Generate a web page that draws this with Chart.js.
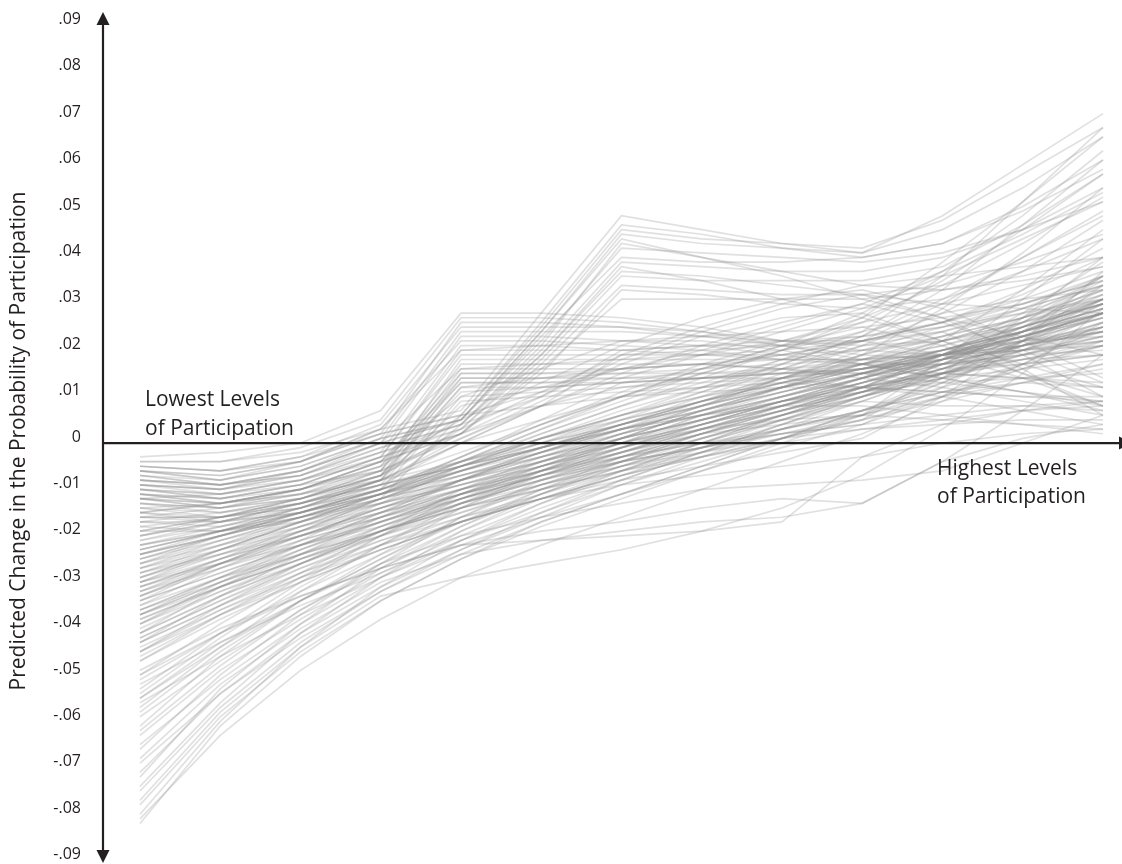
<!DOCTYPE html>
<html>
<head>
<meta charset="utf-8">
<script src="https://cdn.jsdelivr.net/npm/chart.js@4.4.0/dist/chart.umd.min.js"></script>
<style>
  html, body { margin: 0; padding: 0; background: #fff; }
  #wrap { width: 1122px; height: 864px; }
</style>
</head>
<body>
<div id="wrap"><canvas id="chart" width="1122" height="864"></canvas></div>
<script>
// participation levels, lowest to highest
const levels = [0, 1, 2, 3, 4, 5, 6, 7, 8, 9, 10, 11, 12];

// y axis tick values
const yTicks = [.09, .08, .07, .06, .05, .04, .03, .02, .01, 0, -.01, -.02, -.03, -.04, -.05, -.06, -.07, -.08, -.09];

// simulated runs, grouped by where they start / finish
const steepStart = [
  [-.082, -.061, -.046, -.034, -.025, -.017, -.011, -.005, .001, .007, .014, .022, .031],
  [-.081, -.063, -.049, -.038, -.029, -.022, -.016, -.010, -.004, .002, .009, .017, .026],
  [-.080, -.060, -.044, -.031, -.021, -.013, -.006, .000, .006, .012, .019, .028, .039],
  [-.078, -.059, -.045, -.034, -.025, -.018, -.012, -.006, .000, .006, .013, .021, .030],
  [-.077, -.058, -.044, -.033, -.029, -.026, -.023, -.019, -.014, -.007, .003, .015, .029],
  [-.075, -.057, -.043, -.032, -.023, -.015, -.008, -.002, .004, .010, .017, .025, .034],
  [-.074, -.056, -.041, -.029, -.019, -.011, -.004, .002, .007, .012, .018, .026, .036],
  [-.072, -.053, -.039, -.027, -.018, -.010, -.003, .003, .008, .013, .018, .023, .028],
  [-.071, -.054, -.041, -.031, -.023, -.016, -.009, -.003, .003, .009, .015, .022, .030],
  [-.069, -.054, -.042, -.032, -.024, -.017, -.011, -.005, .001, .007, .013, .020, .028],
  [-.068, -.052, -.040, -.030, -.024, -.021, -.019, -.017, -.016, -.013, -.004, .007, .019],
  [-.066, -.050, -.037, -.026, -.016, -.008, -.002, .004, .009, .014, .019, .025, .031],
  [-.065, -.051, -.039, -.029, -.021, -.014, -.008, -.002, .004, .010, .016, .023, .031],
  [-.063, -.049, -.038, -.028, -.020, -.013, -.007, -.001, .005, .011, .017, .024, .031],
  [-.062, -.048, -.036, -.026, -.018, -.011, -.005, .001, .006, .011, .016, .021, .026],
  [-.061, -.046, -.034, -.024, -.014, -.006, .001, .007, .012, .016, .020, .024, .028],
  [-.059, -.047, -.036, -.027, -.019, -.012, -.006, .000, .006, .012, .019, .027, .036],
  [-.058, -.045, -.034, -.025, -.017, -.010, -.004, .002, .007, .012, .018, .025, .033],
  [-.057, -.044, -.032, -.022, -.013, -.006, .000, .006, .011, .015, .019, .023, .027],
  [-.056, -.046, -.037, -.029, -.022, -.016, -.011, -.006, -.001, .004, .010, .017, .025],
  [-.055, -.044, -.034, -.025, -.016, -.009, -.003, .002, .008, .014, .022, .033, .046],
  [-.054, -.042, -.031, -.022, -.014, -.007, -.001, .005, .010, .015, .020, .025, .030],
  [-.053, -.041, -.030, -.020, -.011, -.004, .002, .008, .014, .019, .024, .029, .034],
  [-.052, -.043, -.035, -.028, -.021, -.015, -.009, -.004, .001, .006, .011, .016, .021],
  [-.051, -.041, -.032, -.024, -.017, -.011, -.005, .000, .005, .010, .015, .020, .025],
  [-.050, -.039, -.029, -.020, -.012, -.005, .001, .007, .012, .017, .022, .027, .032],
  [-.049, -.040, -.033, -.027, -.022, -.021, -.020, -.019, -.017, -.003, .004, .007, .009],
  [-.047, -.037, -.028, -.019, -.010, -.003, .003, .009, .015, .021, .028, .037, .048]
];

const coreBand = [
  [-.046, -.037, -.029, -.022, -.016, -.011, -.006, -.001, .004, .009, .015, .021, .028],
  [-.045, -.035, -.026, -.018, -.011, -.005, .000, .005, .010, .015, .020, .025, .030],
  [-.045, -.037, -.030, -.023, -.017, -.012, -.007, -.003, .001, .005, .009, .013, .017],
  [-.044, -.036, -.029, -.023, -.017, -.012, -.007, -.002, .003, .007, .011, .014, .017],
  [-.043, -.033, -.024, -.016, -.008, -.002, .004, .009, .014, .018, .022, .027, .033],
  [-.043, -.035, -.027, -.020, -.013, -.007, -.001, .004, .009, .014, .019, .024, .029],
  [-.042, -.034, -.027, -.021, -.015, -.009, -.004, .001, .006, .011, .017, .024, .032],
  [-.041, -.031, -.023, -.016, -.010, -.005, .000, .004, .008, .012, .015, .018, .021],
  [-.041, -.033, -.026, -.019, -.013, -.008, -.003, .002, .006, .010, .014, .018, .022],
  [-.040, -.032, -.025, -.018, -.012, -.007, -.002, .003, .008, .013, .019, .026, .035],
  [-.039, -.030, -.022, -.015, -.008, -.002, .003, .007, .011, .015, .019, .022, .025],
  [-.039, -.032, -.026, -.020, -.014, -.009, -.004, .001, .006, .011, .016, .022, .028],
  [-.038, -.031, -.025, -.019, -.013, -.008, -.003, .002, .007, .012, .016, .020, .024],
  [-.037, -.029, -.021, -.013, -.005, .001, .006, .010, .013, .016, .019, .022, .024],
  [-.037, -.030, -.024, -.018, -.012, -.007, -.002, .003, .007, .011, .015, .019, .023],
  [-.037, -.031, -.025, -.020, -.015, -.010, -.005, .000, .005, .010, .015, .020, .026],
  [-.036, -.029, -.023, -.017, -.011, -.006, -.001, .004, .009, .014, .019, .024, .029],
  [-.035, -.027, -.020, -.014, -.008, -.003, .002, .006, .010, .014, .018, .023, .028],
  [-.035, -.029, -.024, -.019, -.014, -.010, -.006, -.002, .002, .006, .010, .013, .016],
  [-.034, -.026, -.019, -.012, -.006, -.001, .004, .008, .012, .016, .020, .025, .031],
  [-.034, -.028, -.022, -.017, -.012, -.007, -.002, .003, .008, .013, .018, .024, .031],
  [-.033, -.027, -.021, -.016, -.011, -.006, -.001, .004, .009, .013, .017, .021, .025],
  [-.033, -.026, -.020, -.014, -.009, -.004, .001, .005, .009, .012, .015, .018, .021],
  [-.032, -.025, -.018, -.012, -.006, -.001, .004, .009, .013, .017, .021, .026, .032],
  [-.031, -.025, -.020, -.015, -.010, -.005, .000, .004, .008, .011, .014, .016, .018],
  [-.031, -.025, -.019, -.013, -.007, -.002, .003, .008, .013, .018, .023, .029, .036],
  [-.030, -.023, -.017, -.011, -.005, .000, .005, .009, .013, .016, .019, .023, .028],
  [-.030, -.025, -.020, -.015, -.010, -.006, -.002, .002, .006, .010, .014, .019, .024],
  [-.029, -.024, -.019, -.014, -.009, -.004, .001, .005, .009, .013, .017, .021, .026],
  [-.029, -.023, -.018, -.013, -.008, -.003, .002, .006, .010, .014, .018, .022, .027],
  [-.028, -.022, -.016, -.010, -.004, .001, .006, .010, .014, .017, .020, .022, .023],
  [-.027, -.022, -.017, -.012, -.007, -.002, .003, .007, .011, .015, .019, .024, .030],
  [-.027, -.021, -.016, -.011, -.006, -.001, .004, .009, .014, .019, .023, .027, .031],
  [-.026, -.020, -.015, -.010, -.005, .000, .004, .008, .012, .015, .018, .021, .024],
  [-.025, -.021, -.017, -.013, -.009, -.005, -.001, .003, .007, .011, .016, .022, .029],
  [-.025, -.020, -.015, -.011, -.007, -.003, .001, .005, .009, .012, .015, .017, .019],
  [-.024, -.019, -.014, -.009, -.004, .001, .005, .009, .012, .015, .017, .019, .020],
  [-.024, -.020, -.016, -.012, -.008, -.004, .000, .004, .008, .012, .016, .020, .025],
  [-.023, -.019, -.015, -.011, -.007, -.003, .001, .005, .009, .013, .017, .021, .025],
  [-.022, -.018, -.014, -.010, -.006, -.002, .002, .006, .010, .014, .018, .023, .028],
  [-.022, -.019, -.016, -.013, -.009, -.005, -.001, .003, .007, .011, .015, .019, .023],
  [-.021, -.017, -.013, -.009, -.005, -.001, .003, .006, .009, .011, .013, .014, .015],
  [-.020, -.016, -.012, -.008, -.004, .000, .004, .008, .012, .016, .020, .024, .028],
  [-.019, -.016, -.013, -.009, -.005, -.001, .003, .007, .011, .015, .019, .023, .027]
];

const upperStart = [
  [-.003, -.002, .000, .007, .028, .028, .027, .025, .022, .020, .019, .021, .024],
  [-.004, -.004, -.001, .005, .027, .027, .026, .024, .021, .018, .016, .017, .019],
  [-.005, -.006, -.003, .004, .025, .025, .025, .023, .021, .019, .018, .020, .023],
  [-.006, -.007, -.004, .002, .026, .026, .025, .024, .022, .021, .022, .026, .031],
  [-.006, -.008, -.004, .003, .022, .022, .021, .020, .018, .017, .017, .019, .022],
  [-.007, -.009, -.006, .001, .024, .024, .024, .023, .022, .022, .024, .028, .034],
  [-.009, -.010, -.007, .000, .023, .023, .022, .021, .019, .017, .015, .014, .013],
  [-.008, -.009, -.007, -.002, .021, .021, .020, .019, .018, .018, .020, .024, .029],
  [-.010, -.011, -.008, -.003, .020, .020, .020, .021, .022, .023, .026, .030, .036],
  [-.005, -.006, -.004, .003, .020, .021, .022, .023, .024, .025, .027, .030, .035],
  [-.011, -.012, -.009, -.003, .019, .019, .019, .019, .019, .020, .022, .025, .030],
  [-.012, -.013, -.011, -.006, .018, .018, .018, .018, .018, .018, .019, .020, .022],
  [-.013, -.014, -.011, -.005, .017, .017, .017, .017, .016, .015, .013, .011, .008],
  [-.008, -.009, -.006, .000, .016, .017, .018, .019, .020, .022, .025, .029, .034],
  [-.014, -.016, -.012, -.006, .016, .016, .016, .017, .018, .020, .023, .027, .033],
  [-.011, -.013, -.010, -.004, .015, .015, .015, .015, .015, .016, .018, .022, .027],
  [-.014, -.015, -.013, -.007, .015, .015, .016, .017, .019, .022, .026, .032, .040],
  [-.012, -.014, -.010, -.005, .014, .014, .014, .015, .016, .017, .019, .021, .024],
  [-.016, -.016, -.014, -.008, .014, .014, .015, .016, .017, .018, .019, .020, .021],
  [-.013, -.015, -.012, -.006, .013, .013, .014, .014, .015, .016, .017, .018, .019],
  [-.010, -.012, -.010, -.004, .013, .013, .013, .014, .016, .018, .021, .025, .030],
  [-.015, -.017, -.014, -.008, .012, .012, .013, .014, .015, .017, .020, .024, .029],
  [-.012, -.014, -.012, -.007, .011, .012, .013, .014, .015, .015, .015, .014, .012],
  [-.015, -.016, -.014, -.009, .010, .011, .012, .013, .014, .016, .019, .023, .028],
  [-.017, -.017, -.015, -.010, .009, .010, .011, .012, .014, .016, .018, .020, .022],
  [-.019, -.019, -.017, -.012, .006, .008, .010, .011, .012, .012, .011, .010, .009],
  [-.016, -.017, -.015, -.010, .004, .010, .020, .021, .021, .022, .026, .033, .042],
  [-.017, -.018, -.015, -.009, .000, .008, .019, .020, .021, .023, .025, .028, .031],
  [-.018, -.019, -.016, -.011, -.003, .005, .013, .016, .019, .022, .026, .031, .037]
];

const earlyPeak = [
  [-.004, -.004, -.002, .003, .007, .028, .049, .046, .043, .041, .049, .060, .071],
  [-.005, -.006, -.003, .002, .006, .026, .047, .045, .042, .040, .043, .051, .061],
  [-.006, -.007, -.004, .002, .006, .025, .046, .044, .043, .042, .048, .058, .068],
  [-.007, -.008, -.005, .001, .005, .024, .045, .043, .042, .041, .046, .055, .066],
  [-.009, -.010, -.007, -.001, .004, .021, .043, .040, .037, .034, .033, .035, .038],
  [-.008, -.010, -.006, .000, .005, .022, .042, .041, .040, .039, .041, .046, .052],
  [-.007, -.009, -.006, .000, .005, .023, .040, .039, .039, .040, .043, .050, .059],
  [-.009, -.011, -.008, -.002, .004, .020, .039, .038, .037, .037, .040, .046, .055],
  [-.008, -.009, -.007, -.001, .004, .019, .037, .036, .034, .032, .030, .029, .028],
  [-.010, -.012, -.009, -.003, .003, .018, .036, .035, .035, .035, .038, .047, .058],
  [-.011, -.012, -.009, -.003, .002, .017, .034, .033, .032, .032, .034, .039, .045],
  [-.012, -.013, -.010, -.004, .002, .016, .031, .031, .031, .031, .033, .036, .040],
  [-.006, -.008, -.005, .001, .005, .024, .044, .040, .036, .031, .027, .023, .019],
  [-.010, -.011, -.008, -.002, .003, .019, .038, .035, .031, .027, .022, .017, .012],
  [-.011, -.013, -.010, -.004, .002, .015, .033, .032, .030, .029, .031, .037, .044]
];

const highFinish = [
  [-.030, -.024, -.018, -.012, -.006, .000, .006, .012, .018, .024, .036, .052, .068],
  [-.025, -.020, -.015, -.010, -.004, .002, .008, .014, .020, .027, .039, .052, .066],
  [-.036, -.029, -.022, -.015, -.008, -.001, .005, .011, .017, .023, .033, .047, .061],
  [-.020, -.017, -.013, -.008, -.002, .004, .010, .015, .020, .026, .035, .046, .058],
  [-.041, -.033, -.026, -.019, -.012, -.006, .000, .006, .012, .019, .029, .041, .055],
  [-.015, -.013, -.010, -.006, .001, .008, .014, .019, .024, .029, .036, .044, .052],
  [-.028, -.023, -.017, -.011, -.005, .001, .007, .012, .017, .023, .031, .040, .050],
  [-.037, -.030, -.023, -.017, -.011, -.006, -.002, .002, .004, .006, .018, .031, .044],
  [-.042, -.034, -.026, -.019, -.013, -.008, -.004, -.001, .002, .005, .015, .027, .040],
  [-.031, -.026, -.021, -.016, -.011, -.007, -.003, .000, .003, .006, .014, .024, .036],
  [-.026, -.022, -.018, -.014, -.010, -.006, -.003, .000, .002, .004, .012, .022, .034],
  [-.047, -.038, -.030, -.023, -.017, -.012, -.008, -.005, -.002, .001, .010, .022, .037],
  [-.021, -.018, -.014, -.010, -.003, .004, .011, .017, .022, .026, .030, .034, .038],
  [-.024, -.020, -.016, -.011, -.004, .003, .009, .015, .020, .024, .028, .031, .033],
  [-.017, -.015, -.012, -.007, .003, .011, .019, .025, .030, .034, .036, .038, .040],
  [-.034, -.028, -.022, -.016, -.010, -.004, .002, .008, .014, .020, .025, .030, .035],
  [-.039, -.031, -.024, -.017, -.011, -.005, .001, .007, .012, .017, .022, .026, .030],
  [-.013, -.014, -.012, -.007, .012, .014, .016, .019, .022, .027, .034, .043, .053],
  [-.016, -.016, -.013, -.008, .008, .012, .016, .020, .025, .030, .037, .045, .054],
  [-.023, -.019, -.015, -.010, -.003, .004, .010, .016, .021, .028, .037, .049, .063],
  [-.032, -.026, -.020, -.014, -.008, -.002, .004, .010, .016, .022, .030, .040, .049]
];

const lowFinish = [
  [-.019, -.016, -.012, -.007, .002, .010, .018, .024, .029, .032, .027, .019, .010],
  [-.023, -.019, -.014, -.008, .000, .008, .015, .021, .026, .030, .026, .020, .013],
  [-.015, -.013, -.010, -.005, .005, .013, .021, .027, .031, .033, .029, .022, .014],
  [-.033, -.026, -.019, -.012, -.005, .002, .008, .013, .018, .022, .019, .014, .008],
  [-.029, -.023, -.017, -.011, -.005, .001, .006, .011, .016, .021, .024, .016, .006],
  [-.022, -.019, -.015, -.011, -.006, -.001, .004, .009, .013, .017, .014, .011, .009],
  [-.032, -.027, -.022, -.017, -.012, -.007, -.003, .001, .005, .009, .008, .008, .007],
  [-.028, -.024, -.020, -.016, -.012, -.008, -.004, -.001, .003, .007, .011, .013, .012],
  [-.018, -.016, -.013, -.009, -.005, -.001, .003, .006, .008, .008, .006, .004, .002],
  [-.024, -.020, -.016, -.012, -.008, -.004, .000, .003, .005, .006, .005, .004, .003],
  [-.012, -.011, -.009, -.006, .002, .008, .012, .014, .014, .012, .010, .007, .004],
  [-.030, -.026, -.022, -.018, -.013, -.009, -.005, -.002, .001, .003, .004, .005, .005],
  [-.016, -.014, -.011, -.007, .006, .011, .016, .017, .016, .014, .012, .009, .006],
  [-.038, -.031, -.025, -.019, -.014, -.010, -.006, -.003, .000, .003, .005, .007, .008],
  [-.009, -.010, -.008, -.004, .010, .016, .022, .022, .020, .017, .014, .011, .007],
  [-.027, -.023, -.019, -.015, -.011, -.007, -.004, -.001, .002, .004, .006, .008, .009],
  [-.045, -.036, -.028, -.021, -.016, -.012, -.009, -.007, -.005, -.003, .000, .002, .003],
  [-.014, -.013, -.011, -.008, .000, .005, .010, .012, .013, .012, .011, .010, .010],
  [-.050, -.041, -.033, -.027, -.022, -.019, -.017, -.014, -.012, -.013, -.004, .001, .004],
  [-.055, -.043, -.034, -.026, -.020, -.016, -.013, -.010, -.009, -.008, -.006, .000, .006],
  [-.036, -.030, -.024, -.019, -.014, -.009, -.005, -.001, .003, .007, .012, .017, .021],
  [-.043, -.035, -.028, -.022, -.017, -.012, -.007, -.003, .001, .005, .010, .016, .022],
  [-.020, -.017, -.013, -.008, .001, .009, .017, .023, .027, .028, .022, .015, .008],
  [-.026, -.021, -.016, -.011, -.004, .003, .010, .016, .021, .025, .021, .015, .010]
];

const yTitle = "Predicted Change in the Probability of Participation";
const lowLabel = ["Lowest Levels", "of Participation"];
const highLabel = ["Highest Levels", "of Participation"];

const INK = "#231f20";
const LINE = "rgba(140,140,140,0.27)";
const FONT = "'Open Sans', 'Noto Sans', sans-serif";

function tickText(v) {
  if (v === 0) return "0";
  return (v < 0 ? "-" : "") + "." + String(Math.round(Math.abs(v) * 100)).padStart(2, "0");
}

// axes with arrow heads, tick labels and the text notes
const axesAndLabels = {
  id: "axesAndLabels",
  afterDatasetsDraw(chart) {
    const ctx = chart.ctx;
    const area = chart.chartArea;
    const ys = chart.scales.y;
    const y0 = ys.getPixelForValue(0);
    const ax = area.left;

    ctx.save();
    ctx.strokeStyle = INK;
    ctx.fillStyle = INK;
    ctx.lineWidth = 2.2;

    // vertical axis
    ctx.beginPath();
    ctx.moveTo(ax, 20);
    ctx.lineTo(ax, 856);
    ctx.stroke();
    ctx.beginPath();
    ctx.moveTo(ax, 12);
    ctx.lineTo(ax - 6.5, 25);
    ctx.lineTo(ax + 6.5, 25);
    ctx.closePath();
    ctx.fill();
    ctx.beginPath();
    ctx.moveTo(ax, 863);
    ctx.lineTo(ax - 6.5, 850);
    ctx.lineTo(ax + 6.5, 850);
    ctx.closePath();
    ctx.fill();

    // horizontal axis at zero
    ctx.beginPath();
    ctx.moveTo(ax, y0);
    ctx.lineTo(1120, y0);
    ctx.stroke();
    ctx.beginPath();
    ctx.moveTo(1132, y0);
    ctx.lineTo(1119, y0 - 6.5);
    ctx.lineTo(1119, y0 + 6.5);
    ctx.closePath();
    ctx.fill();

    // tick labels
    ctx.font = "16px " + FONT;
    ctx.textAlign = "right";
    ctx.textBaseline = "middle";
    yTicks.forEach(v => ctx.fillText(tickText(v), 81, ys.getPixelForValue(v) - 6));

    // notes
    ctx.font = "21px " + FONT;
    ctx.textAlign = "left";
    ctx.fillText(lowLabel[0], 145, 400);
    ctx.fillText(lowLabel[1], 145, 429);
    ctx.fillText(highLabel[0], 937, 469);
    ctx.fillText(highLabel[1], 937, 497);

    // axis title
    ctx.translate(19, 441);
    ctx.rotate(-Math.PI / 2);
    ctx.font = "21px " + FONT;
    ctx.textAlign = "center";
    ctx.fillText(yTitle, 0, 0);
    ctx.restore();
  }
};

const runs = [...steepStart, ...coreBand, ...upperStart, ...earlyPeak, ...highFinish, ...lowFinish];

new Chart(document.getElementById("chart"), {
  type: "line",
  data: {
    datasets: runs.map(run => ({
      data: run.map((v, i) => ({ x: levels[i], y: v })),
      borderColor: LINE,
      borderWidth: 1.7,
      pointRadius: 0,
      tension: 0,
      fill: false
    }))
  },
  options: {
    responsive: false,
    animation: false,
    events: [],
    layout: { padding: { left: 103, right: 0, top: 12, bottom: 2 } },
    scales: {
      x: { type: "linear", min: -0.461, max: 12.237, display: false },
      y: { min: -0.0903, max: 0.0929, display: false }
    },
    plugins: {
      legend: { display: false },
      tooltip: { enabled: false }
    }
  },
  plugins: [axesAndLabels]
});
</script>
</body>
</html>
